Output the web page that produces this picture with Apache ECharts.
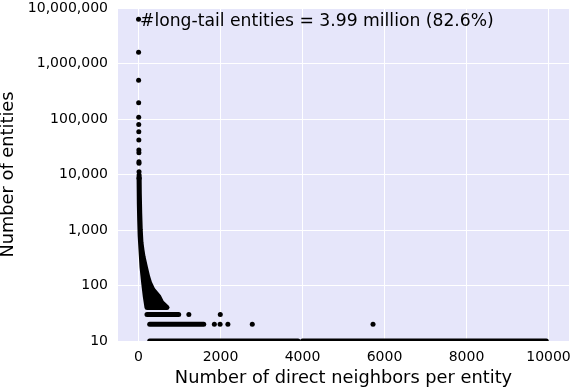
<!DOCTYPE html>
<html><head><meta charset="utf-8">
<script src="https://cdn.jsdelivr.net/npm/echarts@6/dist/echarts.min.js"></script>
<style>html,body{margin:0;padding:0;background:#fff}#c{width:572px;height:388px}</style>
</head><body><div id="c"></div>
<script>
// Tick labels
const xTicks = [0, 2000, 4000, 6000, 8000, 10000];
const yTicks = [10, 100, 1000, 10000, 100000, 1000000, 10000000];

// Isolated points (degree, number of entities)
const dotDegrees = [1, 2, 3, 4, 5, 6, 7, 8, 9, 10, 11, 12, 13, 14, 15,
  1228, 1995, 1850, 1990, 2180, 2775, 5720];
const dotCounts = [6300000, 1600000, 500000, 197000, 107000, 80000, 59000, 42000, 27600, 24600, 17000, 16000, 11200, 8600, 9800,
  30, 30, 20, 20, 20, 20, 20];

// Dense head of the distribution: outline of marker centres (degree, number of entities)
const headDegrees = [16, 20, 30, 43, 60, 85, 110, 166, 224, 273, 354, 493, 560, 696,
  207, 166, 127, 85, 61, 40, 29, 20, 14];
const headCounts = [9000, 4500, 2000, 1000, 600, 436, 331, 218, 144, 110, 83, 63, 50, 40,
  40, 63, 110, 218, 436, 800, 1500, 3000, 9000];

// Dense horizontal runs of points: count level, first degree, last degree
const runCounts = [30, 20, 10, 10];
const runStart = [207, 273, 273, 4000];
const runEnd = [980, 1591, 3890, 9946];

const chart = echarts.init(document.getElementById('c'));
const FONT = 'DejaVu Sans';

function clipOf(params) {
  const c = params.coordSys;
  return {type: 'rect', shape: {x: c.x, y: c.y, width: c.width, height: c.height}};
}

chart.setOption({
  animation: false,
  backgroundColor: '#fff',
  title: {
    text: '#long-tail entities = 3.99 million (82.6%)',
    left: 140, top: 13, padding: 0,
    textStyle: {fontFamily: FONT, fontSize: 17.2, fontWeight: 'normal', color: '#000'}
  },
  grid: {left: 118, right: 3, top: 8, bottom: 47, show: true, backgroundColor: '#E6E6FA', borderWidth: 0,
    containLabel: false, outerBoundsMode: 'none'},
  xAxis: {
    type: 'value', min: -500, max: 10500,
    name: 'Number of direct neighbors per entity', nameLocation: 'middle', nameGap: 28,
    nameTextStyle: {fontFamily: FONT, fontSize: 17.8, color: '#000'},
    axisLine: {show: false},
    axisTick: {show: false, customValues: xTicks},
    axisLabel: {customValues: xTicks, fontFamily: FONT, fontSize: 14, color: '#000', margin: 9,
      formatter: v => String(v)},
    splitLine: {show: true, lineStyle: {color: '#fff', width: 1}}
  },
  yAxis: {
    type: 'log', logBase: 10, min: 10, max: 10000000,
    name: 'Number of entities', nameLocation: 'middle', nameGap: 92,
    nameTextStyle: {fontFamily: FONT, fontSize: 17.8, color: '#000'},
    axisLine: {show: false},
    axisTick: {show: false, customValues: yTicks},
    axisLabel: {customValues: yTicks, fontFamily: FONT, fontSize: 14, color: '#000', margin: 10,
      formatter: v => Number(v).toLocaleString('en-US')},
    splitLine: {show: true, lineStyle: {color: '#fff', width: 1}}
  },
  series: [
    {
      type: 'custom', coordinateSystem: 'cartesian2d', silent: true,
      data: [[headDegrees[0], headCounts[0]]],
      renderItem: (params, api) => ({
        type: 'polygon',
        shape: {points: headDegrees.map((d, i) => api.coord([d, headCounts[i]]))},
        style: {fill: '#000', stroke: '#000', lineWidth: 5, lineJoin: 'round'},
        clipPath: clipOf(params)
      })
    },
    {
      type: 'custom', coordinateSystem: 'cartesian2d', silent: true,
      data: runCounts.map((c, i) => [runStart[i], runEnd[i], c]),
      encode: {x: [0, 1], y: 2},
      renderItem: (params, api) => {
        const a = api.coord([api.value(0), api.value(2)]);
        const b = api.coord([api.value(1), api.value(2)]);
        return {
          type: 'line', shape: {x1: a[0], y1: a[1], x2: b[0], y2: b[1]},
          style: {stroke: '#000', lineWidth: 5, lineCap: 'round'},
          clipPath: clipOf(params)
        };
      }
    },
    {
      type: 'scatter', symbol: 'circle', symbolSize: 5,
      itemStyle: {color: '#000', opacity: 1},
      data: dotDegrees.map((d, i) => [d, dotCounts[i]])
    }
  ]
});
</script></body></html>
